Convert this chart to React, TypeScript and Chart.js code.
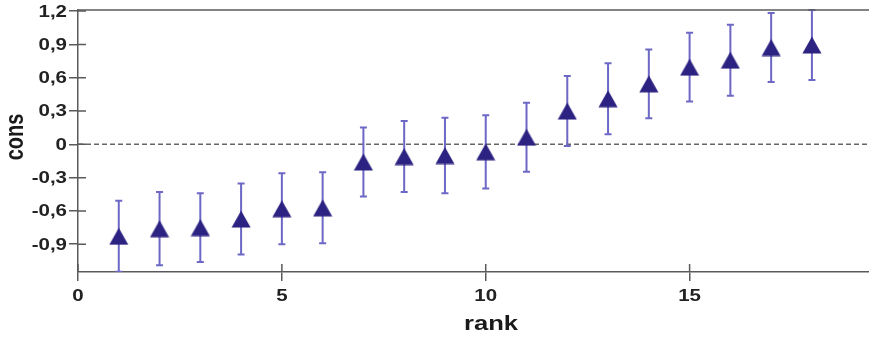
import React, { useEffect, useRef } from "react";
import { Chart, registerables } from "chart.js";

Chart.register(...registerables);

const ranks = [1, 2, 3, 4, 5, 6, 7, 8, 9, 10, 11, 12, 13, 14, 15, 16, 17, 18];
const cons = [-0.828, -0.76, -0.75, -0.673, -0.58, -0.572, -0.159, -0.11, -0.101, -0.067, 0.064, 0.3, 0.411, 0.545, 0.695, 0.758, 0.872, 0.895];
const errs = [0.32, 0.33, 0.31, 0.32, 0.32, 0.32, 0.31, 0.32, 0.34, 0.33, 0.31, 0.315, 0.32, 0.31, 0.31, 0.32, 0.31, 0.315];
const xTicks = [0, 5, 10, 15];
const yTicks = [-0.9, -0.6, -0.3, 0, 0.3, 0.6, 0.9, 1.2];
const xTickLabels = ["0", "5", "10", "15"];
const yTickLabels = ["-0,9", "-0,6", "-0,3", "0", "0,3", "0,6", "0,9", "1,2"];
const xTitle = "rank";
const yTitle = "cons";

const AXIS = "#5a5a5a";
const FONT = "'Liberation Sans', Arial, sans-serif";
const STRETCH = 1.28;

function makeTriangle(): HTMLCanvasElement {
  const c = document.createElement("canvas");
  c.width = 20;
  c.height = 18;
  const g = c.getContext("2d")!;
  g.fillStyle = "#2c2282";
  g.beginPath();
  g.moveTo(10, 0.5);
  g.lineTo(19.5, 17.5);
  g.lineTo(0.5, 17.5);
  g.closePath();
  g.fill();
  return c;
}

function stretchedText(ctx: CanvasRenderingContext2D, text: string, x: number, y: number, align: "left" | "center" | "right") {
  ctx.save();
  ctx.translate(x, y);
  ctx.scale(STRETCH, 1);
  ctx.textAlign = align;
  ctx.fillText(text, 0, 0);
  ctx.restore();
}

const decorPlugin = {
  id: "decor",
  beforeDatasetsDraw(chart: any) {
    const { ctx, chartArea } = chart;
    const xs = chart.scales.x;
    const ys = chart.scales.y;
    ctx.save();
    ctx.strokeStyle = "#666";
    ctx.lineWidth = 1.5;
    ctx.setLineDash([5, 3]);
    const y0 = ys.getPixelForValue(0);
    ctx.beginPath();
    ctx.moveTo(chartArea.left, y0);
    ctx.lineTo(chartArea.right, y0);
    ctx.stroke();
    ctx.setLineDash([]);
    ctx.beginPath();
    ctx.rect(chartArea.left, chartArea.top - 1, chartArea.right - chartArea.left, chartArea.bottom - chartArea.top + 1);
    ctx.clip();
    ctx.strokeStyle = "#6d68c6";
    ctx.lineWidth = 2;
    ranks.forEach((r, i) => {
      const x = xs.getPixelForValue(r);
      const yt = ys.getPixelForValue(cons[i] + errs[i]);
      const yb = ys.getPixelForValue(cons[i] - errs[i]);
      ctx.beginPath();
      ctx.moveTo(x, yt);
      ctx.lineTo(x, yb);
      ctx.moveTo(x - 3.5, yt);
      ctx.lineTo(x + 3.5, yt);
      ctx.moveTo(x - 3.5, yb);
      ctx.lineTo(x + 3.5, yb);
      ctx.stroke();
    });
    ctx.restore();
  },
  afterDraw(chart: any) {
    const { ctx, chartArea } = chart;
    const xs = chart.scales.x;
    const ys = chart.scales.y;
    ctx.save();
    ctx.strokeStyle = AXIS;
    ctx.lineWidth = 1.5;
    ctx.beginPath();
    ctx.moveTo(chartArea.left, chartArea.top);
    ctx.lineTo(chartArea.right, chartArea.top);
    ctx.stroke();
    ctx.beginPath();
    xTicks.forEach((t) => {
      const x = xs.getPixelForValue(t);
      ctx.moveTo(x, chartArea.bottom);
      ctx.lineTo(x, chartArea.bottom - 8);
    });
    yTicks.forEach((t) => {
      const y = ys.getPixelForValue(t);
      ctx.moveTo(chartArea.left, y);
      ctx.lineTo(chartArea.left + 8, y);
    });
    ctx.stroke();
    ctx.fillStyle = "#222";
    ctx.font = `bold 16px ${FONT}`;
    ctx.textBaseline = "middle";
    yTicks.forEach((t, i) => {
      stretchedText(ctx, yTickLabels[i], chartArea.left - 11, ys.getPixelForValue(t) + 1, "right");
    });
    xTicks.forEach((t, i) => {
      stretchedText(ctx, xTickLabels[i], xs.getPixelForValue(t), chartArea.bottom + 25, "center");
    });
    ctx.fillStyle = "#1a1a1a";
    ctx.font = `bold 20px ${FONT}`;
    ctx.textBaseline = "middle";
    stretchedText(ctx, xTitle, 491, 324, "center");
    ctx.translate(16, 137);
    ctx.rotate(-Math.PI / 2);
    ctx.scale(1, STRETCH);
    ctx.textAlign = "center";
    ctx.fillText(yTitle, 0, 0);
    ctx.restore();
  },
};

export default function App() {
  const ref = useRef<HTMLCanvasElement>(null);
  useEffect(() => {
    document.body.style.margin = "0";
    const tri = makeTriangle();
    const chart = new Chart(ref.current!, {
      type: "scatter",
      data: {
        datasets: [
          {
            data: ranks.map((r, i) => ({ x: r, y: cons[i] })),
            pointStyle: tri as any,
            pointRadius: 10,
            pointHoverRadius: 10,
            showLine: false,
          },
        ],
      },
      options: {
        animation: false,
        responsive: false,
        events: [],
        layout: { autoPadding: false, padding: { top: 10, right: 0, left: 0, bottom: 0 } },
        plugins: { legend: { display: false }, tooltip: { enabled: false } },
        scales: {
          x: {
            type: "linear",
            min: 0,
            max: 19.4,
            afterBuildTicks: (s: any) => {
              s.ticks = xTicks.map((v) => ({ value: v }));
            },
            afterFit: (s: any) => {
              s.height = 66;
            },
            grid: { drawOnChartArea: false, tickLength: 9, color: AXIS, lineWidth: 1.5 },
            border: { color: AXIS, width: 1.5 },
            ticks: { display: false },
          },
          y: {
            type: "linear",
            min: -1.15,
            max: 1.21,
            afterBuildTicks: (s: any) => {
              s.ticks = yTicks.map((v) => ({ value: v }));
            },
            afterFit: (s: any) => {
              s.width = 78;
            },
            grid: { drawOnChartArea: false, tickLength: 9, color: AXIS, lineWidth: 1.5 },
            border: { color: AXIS, width: 1.5 },
            ticks: { display: false },
          },
        },
      },
      plugins: [decorPlugin],
    });
    return () => chart.destroy();
  }, []);
  return <canvas ref={ref} width={869} height={338} style={{ display: "block" }} />;
}
